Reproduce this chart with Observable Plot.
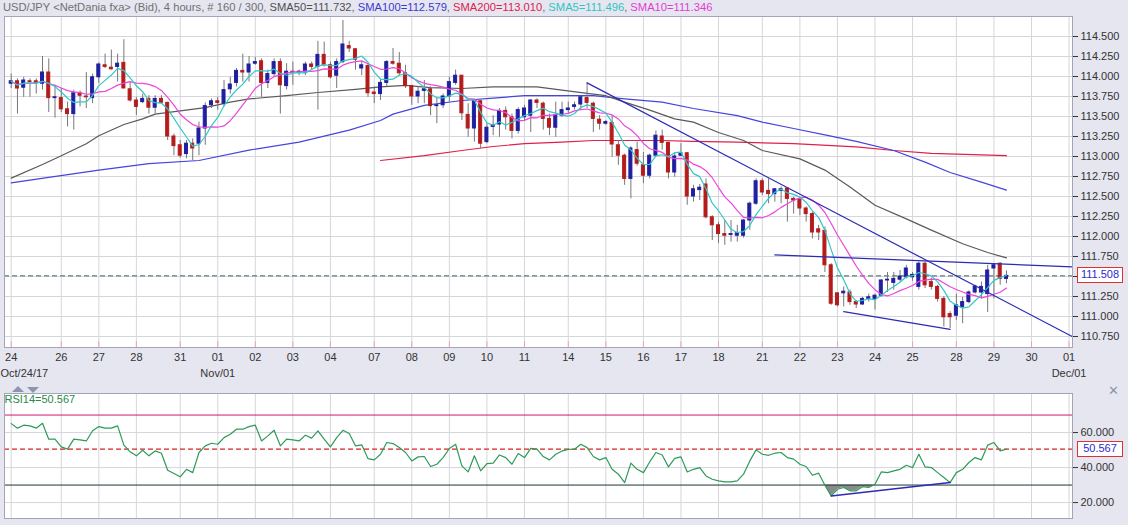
<!DOCTYPE html>
<html><head><meta charset="utf-8">
<script src="https://cdn.jsdelivr.net/npm/d3@7"></script>
<script src="https://cdn.jsdelivr.net/npm/@observablehq/plot@0.6"></script>
<style>
html,body{margin:0;padding:0;background:#e6e6f0;width:1128px;height:525px;overflow:hidden;font-family:"Liberation Sans",Arial,sans-serif;}
#wrap{position:relative;width:1128px;height:525px;}
#title{position:absolute;left:3px;top:1px;font-size:11.2px;line-height:13px;white-space:nowrap;color:#6e6e6e;z-index:2;}
#main{position:absolute;left:0;top:0;}
#rsi{position:absolute;left:0;top:385px;}
.box{position:absolute;background:#fff;border:1px solid #e03030;color:#2a2ad0;font-size:11px;line-height:13px;text-align:center;box-sizing:border-box;z-index:3;}
.tri-up{position:absolute;left:12px;top:386px;width:0;height:0;border-left:6px solid transparent;border-right:6px solid transparent;border-bottom:6px solid #8c94ae;}
.tri-dn{position:absolute;left:27px;top:387px;width:0;height:0;border-left:6px solid transparent;border-right:6px solid transparent;border-top:6px solid #8c94ae;}
#close{position:absolute;left:1108px;top:383px;font-size:13px;color:#8c94ae;}
</style></head>
<body><div id="wrap">
<div id="title"></div>
<div id="main"></div>
<div class="tri-up"></div><div class="tri-dn"></div><div id="close">✕</div>
<div id="rsi"></div>
</div>
<script>
// ---------- data (4-hour bars, index 0..159) ----------
const open = [113.91,113.94,113.86,113.94,113.94,113.91,114.05,113.73,113.73,113.59,
113.53,113.79,113.75,113.73,113.99,114.14,114.11,114.12,114.17,113.84,
113.70,113.68,113.72,113.61,113.72,113.67,113.25,113.14,113.03,113.16,
113.16,113.35,113.64,113.69,113.66,113.84,113.92,114.07,114.05,114.16,
114.19,113.92,114.03,114.18,113.88,114.06,114.05,114.05,114.15,114.12,
114.27,114.14,114.01,114.18,114.38,114.34,114.10,114.13,113.80,113.78,
113.92,114.18,114.16,114.04,113.88,113.75,113.82,113.84,113.63,113.64,
113.75,113.92,114.01,113.52,113.35,113.69,113.18,113.37,113.40,113.57,
113.49,113.32,113.49,113.51,113.70,113.66,113.47,113.36,113.51,113.58,
113.62,113.65,113.73,113.66,113.46,113.41,113.42,113.14,113.01,112.72,
113.08,112.89,112.76,113.01,113.25,113.17,112.80,113.01,113.04,112.50,
112.58,112.65,112.24,112.14,112.03,112.02,112.01,112.01,112.20,112.41,
112.69,112.57,112.53,112.57,112.60,112.47,112.46,112.35,112.28,112.09,
112.07,111.64,111.29,111.29,111.30,111.18,111.15,111.22,111.22,111.26,
111.45,111.42,111.46,111.49,111.49,111.37,111.66,111.43,111.37,111.22,
111.03,111.01,111.12,111.18,111.30,111.30,111.28,111.60,111.66,111.47];
const high = [114.03,113.97,113.99,113.97,113.97,114.25,114.22,113.89,113.85,113.68,
113.83,113.82,114.05,114.03,114.17,114.28,114.33,114.28,114.46,113.93,
113.74,113.78,113.76,113.76,113.76,113.68,113.28,113.20,113.20,113.22,
113.43,113.67,113.72,113.74,113.95,113.99,114.10,114.28,114.25,114.24,
114.22,114.08,114.22,114.22,114.16,114.18,114.08,114.18,114.18,114.44,
114.43,114.18,114.22,114.70,114.44,114.35,114.18,114.16,113.87,113.97,
114.20,114.35,114.30,114.14,113.89,113.87,113.95,113.87,113.74,113.78,
113.99,114.08,114.01,113.66,113.70,113.70,113.41,113.51,113.60,113.62,
113.53,113.61,113.64,113.71,113.72,113.68,113.53,113.68,113.68,113.68,
113.68,113.75,113.92,113.68,113.51,113.45,113.51,113.20,113.03,113.12,
113.18,113.05,113.03,113.32,113.33,113.18,113.04,113.16,113.05,112.64,
112.65,112.72,112.26,112.18,112.20,112.20,112.14,112.21,112.43,112.72,
112.72,112.72,112.60,112.62,112.60,112.49,112.49,112.37,112.30,112.14,
112.12,111.66,111.29,111.37,111.33,111.20,111.24,111.28,111.28,111.46,
111.55,111.55,111.575,111.64,111.55,111.68,111.68,111.48,111.39,111.25,
111.06,111.28,111.24,111.32,111.39,111.43,111.64,111.66,111.67,111.57];
const low = [113.85,113.53,113.74,113.74,113.78,113.83,113.55,113.48,113.55,113.37,
113.33,113.62,113.60,113.66,113.91,114.10,114.08,113.93,113.85,113.68,
113.51,113.66,113.53,113.53,113.66,113.20,113.01,112.98,112.97,112.95,
113.01,113.14,113.60,113.58,113.62,113.78,113.87,113.93,113.93,114.14,
113.74,113.85,114.00,113.53,113.83,113.89,114.01,114.01,114.08,113.58,
114.12,113.97,113.85,114.16,114.30,114.08,114.01,113.74,113.66,113.70,
113.87,114.14,114.01,113.85,113.64,113.66,113.66,113.51,113.41,113.60,
113.68,113.89,113.45,113.24,113.18,113.10,113.16,113.26,113.24,113.33,
113.22,113.28,113.45,113.30,113.60,113.33,113.26,113.24,113.49,113.53,
113.58,113.58,113.60,113.30,113.33,113.39,112.99,112.89,112.64,112.47,
112.88,112.66,112.72,113.00,113.08,112.72,112.74,113.00,112.39,112.43,
112.45,112.22,111.95,111.91,111.89,111.93,111.93,111.98,112.08,112.39,
112.51,112.41,112.43,112.41,112.18,112.28,112.26,112.18,111.97,111.95,
111.55,111.14,111.12,111.12,111.14,111.10,111.14,111.18,111.08,111.24,
111.30,111.33,111.43,111.47,111.44,111.33,111.35,111.33,111.18,110.87,
110.85,110.95,110.91,111.16,111.28,111.22,111.05,111.22,111.39,111.41];
const close = [113.94,113.85,113.95,113.93,113.92,114.05,113.73,113.74,113.59,113.53,
113.79,113.76,113.74,113.99,114.15,114.12,114.09,114.16,113.85,113.70,
113.62,113.72,113.61,113.72,113.67,113.25,113.13,113.01,113.16,113.10,
113.35,113.63,113.69,113.67,113.83,113.90,114.07,114.05,114.15,114.18,
113.92,114.03,114.18,113.89,114.06,114.05,114.06,114.15,114.12,114.27,
114.14,113.99,114.18,114.40,114.35,114.21,114.14,113.79,113.78,113.92,
114.18,114.16,114.04,113.88,113.75,113.81,113.84,113.63,113.64,113.75,
113.93,114.01,113.54,113.35,113.69,113.16,113.36,113.39,113.57,113.49,
113.32,113.58,113.60,113.70,113.67,113.47,113.36,113.51,113.58,113.60,
113.64,113.74,113.67,113.47,113.41,113.43,113.15,113.01,112.72,113.10,
112.91,112.76,113.01,113.26,113.17,112.80,113.00,113.04,112.50,112.59,
112.61,112.24,112.14,112.03,112.01,112.03,112.04,112.20,112.41,112.69,
112.55,112.53,112.59,112.59,112.47,112.45,112.35,112.28,112.05,112.05,
111.64,111.16,111.14,111.31,111.18,111.15,111.22,111.24,111.26,111.45,
111.46,111.47,111.50,111.60,111.52,111.66,111.39,111.37,111.22,110.99,
110.99,111.14,111.18,111.30,111.375,111.37,111.575,111.64,111.47,111.508];

// long moving averages: [bar index, value]
const sma50Pts = [[0,112.73],[5,112.90],[8,113.01],[12,113.16],[14,113.26],[18,113.40],[21,113.47],[23,113.53],[27,113.57],[31,113.61],[35,113.68],[38,113.72],[44,113.76],[49,113.80],[55,113.84],[59,113.87],[63,113.89],[67,113.86],[72,113.85],[77,113.87],[84,113.87],[88,113.83],[92,113.79],[95,113.76],[98,113.68],[102,113.58],[106,113.47],[109,113.43],[113,113.30],[117,113.20],[120,113.075],[126,112.97],[130,112.83],[134,112.62],[138,112.39],[143,112.22],[147,112.08],[152,111.91],[156,111.80],[159,111.732]];
const sma100Pts = [[0,112.67],[6,112.74],[14,112.83],[22,112.91],[30,112.95],[38,113.08],[46,113.18],[54,113.33],[59,113.45],[61,113.53],[66,113.64],[72,113.70],[77,113.73],[82,113.76],[88,113.76],[93,113.76],[98,113.72],[104,113.68],[109,113.60],[116,113.51],[120,113.43],[125,113.35],[130,113.27],[135,113.19],[141,113.075],[146,112.93],[150,112.80],[155,112.68],[159,112.579]];
const sma200Pts = [[59,112.95],[66,113.01],[72,113.075],[77,113.125],[82,113.16],[88,113.18],[93,113.20],[98,113.20],[104,113.20],[109,113.19],[116,113.18],[125,113.16],[135,113.12],[141,113.075],[147,113.04],[159,113.010]];

// hand-drawn trend lines: [bar index, price]
const trendDown = [[92,113.92],[169.5,110.75]];
const trendFlat = [[122,111.77],[169.5,111.62]];
const trendLow  = [[133,111.06],[150,110.84]];

// RSI(14)
const rsi = [65.1,62.5,64.2,63.8,62.5,65.3,56.2,56.2,51.8,50.5,
56.2,55.8,55.2,61.0,63.4,62.5,62.5,63.8,52.8,49.0,
46.7,49.9,46.7,49.5,48.2,38.5,36.6,34.7,39.0,37.1,
48.6,52.4,53.9,53.3,57.1,59.0,61.9,61.9,63.4,64.2,
55.2,58.1,61.3,52.4,56.2,55.8,55.2,58.5,56.8,61.0,
56.2,51.8,57.1,61.3,59.4,52.4,53.0,45.1,44.4,47.6,
54.3,53.7,51.4,48.6,43.8,46.1,46.3,40.6,41.9,45.7,
50.9,53.3,41.0,37.5,46.7,38.1,42.3,42.5,47.2,45.7,
41.9,48.0,45.7,51.0,50.5,46.3,44.4,47.6,49.5,50.4,
50.5,53.3,51.4,46.3,44.4,45.7,39.0,36.2,31.4,42.5,
39.0,37.1,43.2,48.6,47.2,40.4,45.2,46.1,37.5,39.0,
40.0,35.2,33.3,32.4,31.8,31.8,32.4,36.2,43.8,50.1,
47.6,47.0,48.2,48.6,45.7,44.8,41.9,40.6,35.6,36.8,
29.9,23.8,27.6,28.6,26.7,26.7,29.1,28.6,30.5,37.5,
37.1,38.1,39.0,41.3,40.0,47.6,40.4,40.0,37.1,34.3,
31.4,37.1,39.0,42.9,45.7,44.4,52.8,54.3,49.5,50.567];
const rsiDiv = [[131,23.8],[150,31.4]];
const rsiLevels = {high:70, low:30};

// axis ticks
const dayTicks  = [0,8,14,20,27,33,39,45,51,58,64,70,76,82,89,95,101,107,113,120,126,132,138,144,151,157,163,169];
const dayLabels = ["24","26","27","28","31","01","02","03","04","07","08","09","10","11","14","15","16","17","18","21","22","23","24","25","28","29","30","01"];
const monthTicks = [33,169];
const monthLabels = ["Nov/01","Dec/01"];
const firstLabel = "Oct/24/17";
const priceTicks = [110.75,111,111.25,111.5,111.75,112,112.25,112.5,112.75,113,113.25,113.5,113.75,114,114.25,114.5];
const rsiTicks = [20,40,60];

const titleParts = [
  ["USD/JPY <NetDania fxa> (Bid), 4 hours, # 160 / 300, ","#707070"],
  ["SMA50=111.732","#505050"],[", ","#707070"],
  ["SMA100=112.579","#3a3ad0"],[", ","#707070"],
  ["SMA200=113.010","#e0204a"],[", ","#707070"],
  ["SMA5=111.496","#2ec4c4"],[", ","#707070"],
  ["SMA10=111.346","#e33cd4"]
];

// ---------- build ----------
const X_DOMAIN = [-1.07, 169.55];
const Y_DOMAIN = [110.6125, 114.75];
const RSI_DOMAIN = [10.9, 82.3];
const UP = "#1f1fa0", DOWN = "#b41c1c", WICK = "#777777", GRID = "#d6d6dc", TREND = "#2b2bb4";
const FONT = "Liberation Sans, Arial, sans-serif";

const bars = open.map((o, i) => ({i, open:o, high:high[i], low:low[i], close:close[i]}));
const pts = a => a.map(([i, v]) => ({i, v}));
const lastClose = close[close.length - 1];
const lastRsi = rsi[rsi.length - 1];
const rsiRows = rsi.map((r, i) => ({i, r}));

const title = document.getElementById("title");
for (const [t, c] of titleParts) { const s = document.createElement("span"); s.textContent = t; s.style.color = c; title.appendChild(s); }

const main = Plot.plot({
  width:1128, height:385, marginTop:16, marginBottom:38, marginLeft:4, marginRight:56,
  style:{background:"transparent", fontFamily:FONT, fontSize:"11px", color:"#333"},
  x:{domain:X_DOMAIN}, y:{domain:Y_DOMAIN},
  marks:[
    Plot.frame({fill:"#ffffff"}),
    Plot.gridX({ticks:dayTicks, stroke:GRID, strokeOpacity:1}),
    Plot.gridY({ticks:priceTicks, stroke:GRID, strokeOpacity:1}),
    Plot.ruleX(dayTicks, {x:d=>d, y1:Y_DOMAIN[0], y2:Y_DOMAIN[0]+0.07, stroke:"#e6a6b8"}),
    Plot.line(pts(sma200Pts), {x:"i", y:"v", stroke:"#e0204a", strokeWidth:1.2}),
    Plot.line(pts(sma100Pts), {x:"i", y:"v", stroke:"#4545dc", strokeWidth:1.2}),
    Plot.line(pts(sma50Pts), {x:"i", y:"v", stroke:"#5a5a5a", strokeWidth:1.2}),
    Plot.ruleY([lastClose], {stroke:"#3f6464", strokeDasharray:"5,3"}),
    Plot.ruleX(bars, {x:"i", y1:"low", y2:"high", stroke:WICK, strokeWidth:1}),
    Plot.rect(bars.filter(d=>d.close>=d.open), {x1:d=>d.i-0.24, x2:d=>d.i+0.24, y1:"open", y2:"close", fill:UP, stroke:UP, strokeWidth:1}),
    Plot.rect(bars.filter(d=>d.close<d.open), {x1:d=>d.i-0.24, x2:d=>d.i+0.24, y1:"open", y2:"close", fill:DOWN, stroke:DOWN, strokeWidth:1}),
    Plot.lineY(bars, Plot.windowY({k:10, anchor:"end"}, {x:"i", y:"close", stroke:"#ec46dc", strokeWidth:1.2})),
    Plot.lineY(bars, Plot.windowY({k:5, anchor:"end"}, {x:"i", y:"close", stroke:"#33c6c6", strokeWidth:1.2})),
    Plot.line(pts(trendDown), {x:"i", y:"v", stroke:TREND, strokeWidth:1.2}),
    Plot.line(pts(trendFlat), {x:"i", y:"v", stroke:TREND, strokeWidth:1.2}),
    Plot.line(pts(trendLow), {x:"i", y:"v", stroke:TREND, strokeWidth:1.2}),
    Plot.frame({stroke:"#a4a4b6"}),
    Plot.axisY({anchor:"right", ticks:priceTicks, tickFormat:d=>d.toFixed(3), tickSize:5, tickPadding:3, label:null, fontSize:11}),
    Plot.axisX({ticks:dayTicks, tickFormat:d=>dayLabels[dayTicks.indexOf(d)], tickSize:0, tickPadding:6, label:null, fontSize:11}),
    Plot.text(monthTicks, {x:d=>d, text:d=>monthLabels[monthTicks.indexOf(d)], frameAnchor:"bottom", dy:29, fontSize:11, fill:"#333"}),
    Plot.text([firstLabel], {frameAnchor:"bottom-left", text:d=>d, dx:-4, dy:29, fontSize:11, fill:"#333"})
  ]
});
document.getElementById("main").appendChild(main);

const rsiPlot = Plot.plot({
  width:1128, height:140, marginTop:8, marginBottom:7, marginLeft:4, marginRight:56,
  style:{background:"transparent", fontFamily:FONT, fontSize:"11px", color:"#333"},
  x:{domain:X_DOMAIN, axis:null}, y:{domain:RSI_DOMAIN},
  marks:[
    Plot.frame({fill:"#ffffff"}),
    Plot.gridX({ticks:dayTicks, stroke:GRID, strokeOpacity:1}),
    Plot.gridY({ticks:rsiTicks, stroke:GRID, strokeOpacity:1}),
    Plot.areaY(rsiRows.filter(d=>d.i>=129 && d.i<=139), {x:"i", y1:()=>rsiLevels.low, y2:d=>Math.min(d.r, rsiLevels.low), fill:"#8a8a8a"}),
    Plot.ruleY([rsiLevels.high], {stroke:"#d0186a"}),
    Plot.ruleY([rsiLevels.low], {stroke:"#1c3434"}),
    Plot.ruleY([lastRsi], {stroke:"#dd2020", strokeDasharray:"5,3", strokeWidth:1.2}),
    Plot.line(rsiRows, {x:"i", y:"r", stroke:"#2f9a58", strokeWidth:1.2}),
    Plot.line(pts(rsiDiv), {x:"i", y:"v", stroke:TREND, strokeWidth:1.5}),
    Plot.frame({stroke:"#a4a4b6"}),
    Plot.axisY({anchor:"right", ticks:rsiTicks, tickFormat:d=>d.toFixed(3), tickSize:5, tickPadding:3, label:null, fontSize:11}),
    Plot.text(["RSI14=" + lastRsi.toFixed(3)], {frameAnchor:"top-left", text:d=>d, dx:0, dy:2, fill:"#2a8a4a", fontSize:11})
  ]
});
document.getElementById("rsi").appendChild(rsiPlot);

// value boxes placed through the plots' own y scales
function addBox(value, yPix, offsetTop) {
  const b = document.createElement("div");
  b.className = "box";
  b.textContent = value.toFixed(3);
  b.style.left = "1077px"; b.style.width = "46px"; b.style.height = "16px";
  b.style.top = (offsetTop + yPix - 8) + "px";
  document.getElementById("wrap").appendChild(b);
}
addBox(lastClose, main.scale("y").apply(lastClose), 0);
addBox(lastRsi, rsiPlot.scale("y").apply(lastRsi), 385);
</script>
</body></html>
